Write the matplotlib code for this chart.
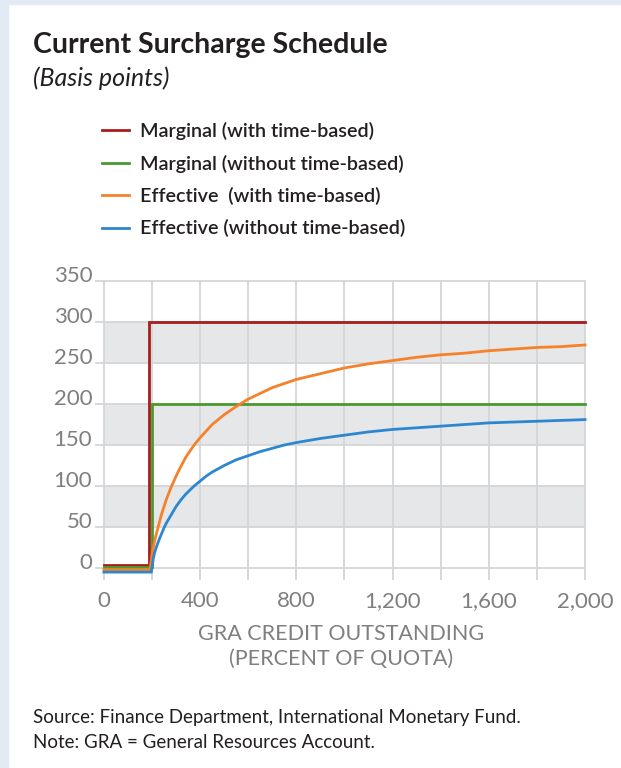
import matplotlib
matplotlib.use('Agg')
import matplotlib.pyplot as plt
import matplotlib.transforms as mtransforms
from matplotlib.patches import Rectangle

plt.rcParams['font.family'] = ['Lato', 'DejaVu Sans']

# data (basis points vs percent of quota)
x_red = [0, 187.5, 187.5, 2000]
y_red = [4, 4, 300, 300]

x_green = [0, 200, 200, 2000]
y_green = [1, 1, 200, 200]

x_orange = [0, 192, 200, 210, 220, 230, 240, 250, 260, 280, 300, 320, 340, 375,
            400, 425, 450, 500, 550, 600, 650, 700, 750, 800, 900, 1000, 1100,
            1200, 1300, 1400, 1500, 1600, 1700, 1800, 1900, 2000]
y_orange = [-2, -2, 17, 32, 44, 55, 66, 75, 84, 99, 112, 124, 135, 150,
            159, 167, 175, 187, 197, 206, 213, 220, 225, 230, 237, 244, 249,
            253, 257, 260, 262, 265, 267, 269, 270, 272]

x_blue = [0, 197, 205, 210, 220, 230, 240, 250, 260, 280, 300, 320, 340, 375,
          400, 425, 450, 500, 550, 600, 650, 700, 750, 800, 900, 1000, 1100,
          1200, 1300, 1400, 1500, 1600, 1700, 1800, 1900, 2000]
y_blue = [-5, -5, 11, 18, 27, 35, 42, 49, 55, 65, 75, 83, 90, 100,
          106, 112, 117, 125, 132, 137, 142, 146, 150, 153, 158, 162, 166,
          169, 171, 173, 175, 177, 178, 179, 180, 181]

labels = ['Marginal (with time-based)', 'Marginal (without time-based)',
          'Effective  (with time-based)', 'Effective (without time-based)']
colors = ['#A61E1B', '#4A9A2E', '#F5822A', '#2D87D0']

yticks = [0, 50, 100, 150, 200, 250, 300, 350]
xticks = [0, 400, 800, 1200, 1600, 2000]
xtick_labels = ['0', '400', '800', '1,200', '1,600', '2,000']
xgrid = list(range(0, 2001, 200))
bands = [(50, 100), (150, 200), (250, 300)]

fig = plt.figure(figsize=(6.21, 7.68), dpi=100)
fig.patch.set_facecolor('white')

# light blue frame on top and left
fig.add_artist(Rectangle((0, 0), 8 / 621, 1, transform=fig.transFigure, color='#E2EAF5', zorder=0))
fig.add_artist(Rectangle((0, 1 - 4 / 768), 1, 4 / 768, transform=fig.transFigure, color='#E2EAF5', zorder=0))

ax = fig.add_axes([95 / 621, 1 - 580.3 / 768, 491.5 / 621, 300.9 / 768])
ax.set_xlim(-37, 2006)
ax.set_ylim(-15, 352)
for s in ax.spines.values():
    s.set_visible(False)

grid_c = '#D6D6D8'
for lo, hi in bands:
    ax.fill_between([0, 2000], lo, hi, color='#E6E7E9', lw=0, zorder=0)
for yv in yticks:
    ax.plot([-37, 2000], [yv, yv], color=grid_c, lw=1.3, zorder=1)
for xv in xgrid:
    ax.plot([xv, xv], [-15, 350], color=grid_c, lw=1.3, zorder=1)

series = [(x_red, y_red), (x_green, y_green), (x_orange, y_orange), (x_blue, y_blue)]
for (xs, ys), lab, c in zip(series, labels, colors):
    ax.plot(xs, ys, color=c, lw=2, label=lab, zorder=3, solid_joinstyle='miter')

ax.set_yticks(yticks)
ax.set_yticklabels([str(v) for v in yticks])
ax.set_xticks(xticks)
ax.set_xticklabels(xtick_labels)
ax.tick_params(length=0, labelsize=16, labelcolor='#7F7F7F')
ax.tick_params(axis='y', pad=2)
ax.tick_params(axis='x', pad=8)
off = mtransforms.ScaledTranslation(0, 7 / 100, fig.dpi_scale_trans)
for t in ax.get_yticklabels():
    t.set_transform(t.get_transform() + off)

ax.set_xlabel('GRA CREDIT OUTSTANDING\n(PERCENT OF QUOTA)', fontsize=15.5,
              color='#7F7F7F', labelpad=9, linespacing=1.3)

leg = fig.legend(loc='upper left', bbox_to_anchor=(102 / 621, 1 - 122 / 768),
                 frameon=False, fontsize=14.2, handlelength=1.35, handletextpad=0.6,
                 labelspacing=0.73, borderpad=0, borderaxespad=0)
for t in leg.get_texts():
    t.set_color('#231F20')
    t.set_fontweight('semibold')

fig.text(33 / 621, 1 - 45 / 768, 'Current Surcharge Schedule', fontsize=20.5,
         fontweight='bold', color='#231F20', va='center')
fig.text(33 / 621, 1 - 78 / 768, '(Basis points)', fontsize=18, style='italic',
         color='#231F20', va='center')
fig.text(33 / 621, 1 - 718 / 768, 'Source: Finance Department, International Monetary Fund.',
         fontsize=13.5, color='#231F20', va='center')
fig.text(33 / 621, 1 - 742 / 768, 'Note: GRA = General Resources Account.',
         fontsize=13.5, color='#231F20', va='center')

fig.savefig('out.png', dpi=100)
